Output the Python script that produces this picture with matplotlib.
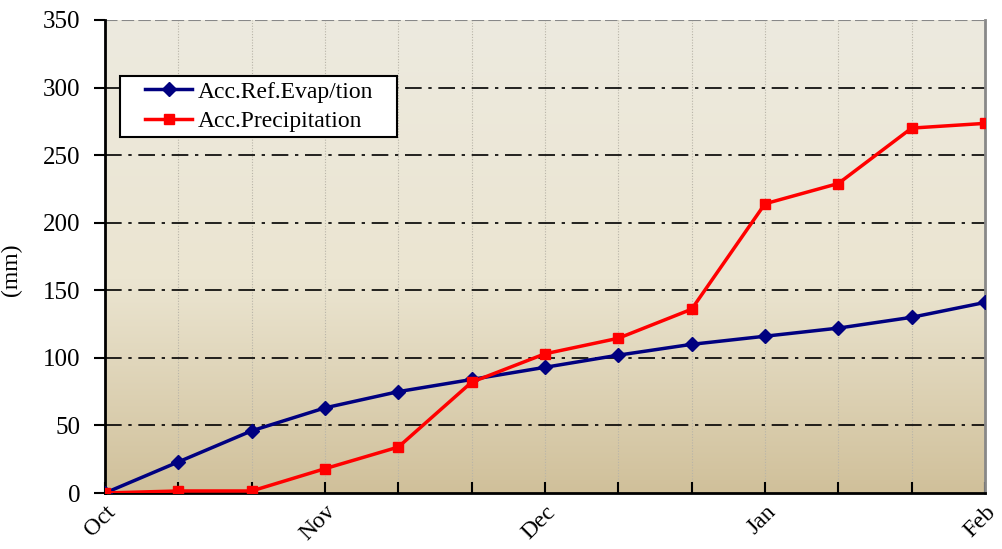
import numpy as np
import matplotlib.pyplot as plt
from matplotlib.colors import LinearSegmentedColormap
from matplotlib.patches import Rectangle

# dekads from Oct to Feb
dekad = np.arange(13)
month_pos = [0, 3, 6, 9, 12]
month_labels = ["Oct", "Nov", "Dec", "Jan", "Feb"]

evap = [0, 23, 46, 63, 75, 84, 93, 102, 110, 116, 122, 130, 141]
precip = [0, 1.5, 1.5, 18, 34, 82, 103, 114.5, 136, 214, 229, 270, 273.5]

plt.rcParams["font.family"] = ["Liberation Serif", "DejaVu Serif"]

fig = plt.figure(figsize=(10.03, 5.49), dpi=100)
ax = fig.add_axes([0.1047, 0.102, 0.8773, 0.8616])

# background gradient
cmap = LinearSegmentedColormap.from_list(
    "bg", [(0.0, "#d0c09a"), (0.45, "#ebe5d1"), (1.0, "#edeadf")])
grad = np.linspace(0, 1, 256).reshape(-1, 1)
ax.imshow(grad, aspect="auto", cmap=cmap, origin="lower",
          extent=[0, 12, 0, 350], zorder=0)

ax.set_xlim(0, 12)
ax.set_ylim(0, 350)

for x in dekad[1:-1]:
    ax.axvline(x, color="#b8b4a8", lw=0.8, ls=(0, (1, 1.5)), zorder=1)
for y in range(50, 350, 50):
    ax.axhline(y, color="black", lw=1.2, ls=(0, (10, 4, 2, 4)), zorder=1)
ax.axhline(350, color="#888888", lw=1.5, ls=(0, (6, 2)), zorder=1)

ax.plot(dekad, evap, color="#000080", lw=2.5, marker="D", ms=7,
        label="Acc.Ref.Evap/tion", zorder=3)
ax.plot(dekad, precip, color="#ff0000", lw=2.5, marker="s", ms=7,
        label="Acc.Precipitation", zorder=3)

ax.set_yticks(range(0, 351, 50))
ax.tick_params(axis="y", direction="out", length=8, width=1.5, labelsize=18,
               pad=10)
ax.set_xticks(dekad, minor=True)
ax.set_xticks(month_pos)
ax.set_xticklabels(month_labels, rotation=45, ha="right", rotation_mode="anchor",
                   fontsize=17)
ax.tick_params(axis="x", which="both", direction="in", length=8, width=1.5,
               pad=6)
ax.set_ylabel("(mm)", fontsize=17)
ax.yaxis.set_label_coords(-0.094, 0.471)

for s in ["left", "bottom"]:
    ax.spines[s].set_linewidth(2)
ax.spines["right"].set_color("#888888")
ax.spines["right"].set_linewidth(2)
ax.spines["top"].set_visible(False)

# legend box drawn separately for wider side padding
ax.add_patch(Rectangle((0.017, 0.7526), 0.3148, 0.129, transform=ax.transAxes,
                       facecolor="white", edgecolor="black", lw=1.5, zorder=4))
ax.legend(loc="upper left", bbox_to_anchor=(0.0455, 0.871), fontsize=17,
          frameon=False, handlelength=2.0, borderpad=0, borderaxespad=0,
          labelspacing=0.35, handletextpad=0.25).set_zorder(5)

fig.savefig("out.png", dpi=100)
